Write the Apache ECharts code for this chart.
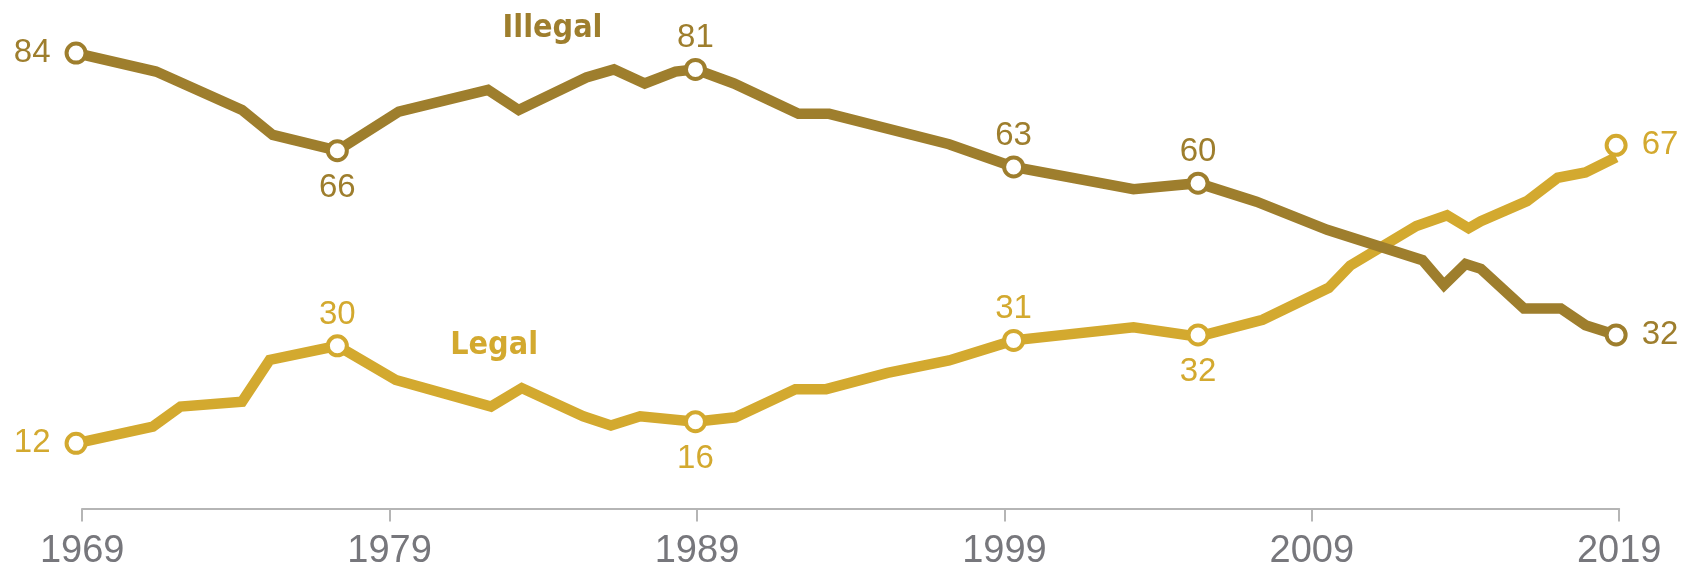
<!DOCTYPE html>
<html>
<head>
<meta charset="utf-8">
<script src="https://cdn.jsdelivr.net/npm/echarts@6/dist/echarts.min.js"></script>
<style>
  html, body { margin: 0; padding: 0; background: #fff; }
  #chart { width: 1696px; height: 567px; }
</style>
</head>
<body>
<div id="chart"></div>
<script>
const ILLEGAL_COLOR = '#9e7e2d'
const LEGAL_COLOR = '#d3a92f'
const NUM_FONT = "'Liberation Sans', Arial, sans-serif"
const NAME_FONT = "'DejaVu Sans Condensed', 'DejaVu Sans', sans-serif"

// survey points
const illegalYears = [1968.8, 1971.4, 1974.2, 1975.2, 1977.3, 1979.3, 1982.2, 1983.2, 1985.4, 1986.3,
  1987.3, 1988.3, 1988.95, 1990.2, 1992.3, 1993.3, 1997.2, 1999.3, 2003.2, 2005.3,
  2007.2, 2009.5, 2012.6, 2013.3, 2014.0, 2014.5, 2015.9, 2017.1, 2017.9, 2018.9]
const illegalValues = [84, 80.6, 73.5, 68.9, 66, 73.2, 77.2, 73.5, 79.5, 81.0,
  78.4, 80.6, 81, 78.4, 72.8, 72.8, 67.2, 63, 58.9, 60,
  56.6, 51.4, 45.8, 41.2, 45.1, 44.2, 36.9, 36.9, 33.8, 32]

const legalYears = [1968.8, 1971.3, 1972.2, 1974.2, 1975.1, 1977.3, 1979.2, 1982.3, 1983.3, 1985.3,
  1986.2, 1987.15, 1988.95, 1990.25, 1992.2, 1993.2, 1995.2, 1997.2, 1999.3, 2003.2,
  2005.3, 2007.4, 2009.55, 2010.25, 2012.4, 2013.4, 2014.1, 2014.5, 2016.0, 2017.0,
  2017.9, 2018.9]
const legalValues = [12, 15.1, 18.8, 19.7, 27.4, 30, 23.7, 18.8, 22.2, 17.0,
  15.3, 17.0, 16, 16.8, 22.0, 22.0, 25.0, 27.3, 31, 33.4,
  31.7, 34.8, 40.7, 44.8, 52.1, 54.1, 51.7, 53.0, 56.7, 61.0,
  62.0, 64.8]

// labelled points
const labelYears = [1968.8, 1977.3, 1988.95, 1999.3, 2005.3, 2018.9]
const illegalLabels = [84, 66, 81, 63, 60, 32]
const legalLabels = [12, 30, 16, 31, 32, 67]

const xTicks = [1969, 1979, 1989, 1999, 2009, 2019]

const illegalLabelPos = ['left', 'bottom', 'top', 'top', 'top', 'right']
const legalLabelPos = ['left', 'top', 'bottom', 'top', 'bottom', 'right']

function pairs(xs, ys) {
  return xs.map((x, i) => [x, ys[i]])
}

function labelDistance(pos) {
  if (pos === 'left' || pos === 'right') return 14
  return pos === 'top' ? 3 : 9
}

function lineSeries(name, color, xs, ys, z) {
  return {
    name,
    type: 'line',
    z,
    showSymbol: false,
    clip: false,
    lineStyle: { color, width: 10.5, join: 'miter' },
    data: pairs(xs, ys)
  }
}

function markerSeries(color, values, positions) {
  return {
    type: 'scatter',
    z: 5,
    clip: false,
    symbol: 'circle',
    symbolSize: 19,
    itemStyle: { color: '#fff', borderColor: color, borderWidth: 4, opacity: 1 },
    data: labelYears.map((y, i) => ({
      value: [y, values[i]],
      label: { position: positions[i], distance: labelDistance(positions[i]) }
    })),
    label: {
      show: true,
      color,
      fontFamily: NUM_FONT,
      fontSize: 33,
      formatter: (p) => String(p.value[1])
    }
  }
}

function nameSeries(name, color, coord) {
  return {
    type: 'scatter',
    z: 6,
    symbolSize: 0,
    silent: true,
    itemStyle: { opacity: 1 },
    data: [coord],
    label: {
      show: true,
      position: 'inside',
      formatter: name,
      color,
      fontFamily: NAME_FONT,
      fontWeight: 'bold',
      fontSize: 32
    }
  }
}

const chart = echarts.init(document.getElementById('chart'))
chart.setOption({
  animation: false,
  grid: { left: 82.2, right: 76.8, top: 20.6, bottom: 58.6, containLabel: false, outerBoundsMode: 'none' },
  xAxis: {
    type: 'value',
    min: 1969,
    max: 2019,
    interval: 10,
    splitLine: { show: false },
    axisLine: { lineStyle: { color: '#b5b5b5', width: 2 } },
    axisTick: { show: true, length: 13, lineStyle: { color: '#b5b5b5', width: 2 }, customValues: xTicks },
    axisLabel: {
      color: '#77777c',
      fontFamily: NUM_FONT,
      fontSize: 38,
      margin: 24,
      showMinLabel: true,
      showMaxLabel: true,
      customValues: xTicks,
      formatter: (v) => String(v)
    }
  },
  yAxis: {
    type: 'value',
    min: 0,
    max: 90,
    show: false
  },
  series: [
    lineSeries('Legal', LEGAL_COLOR, legalYears, legalValues, 2),
    lineSeries('Illegal', ILLEGAL_COLOR, illegalYears, illegalValues, 3),
    markerSeries(LEGAL_COLOR, legalLabels, legalLabelPos),
    markerSeries(ILLEGAL_COLOR, illegalLabels, illegalLabelPos),
    nameSeries('Illegal', ILLEGAL_COLOR, [1984.3, 88.6]),
    nameSeries('Legal', LEGAL_COLOR, [1982.4, 30.0])
  ]
})
</script>
</body>
</html>
